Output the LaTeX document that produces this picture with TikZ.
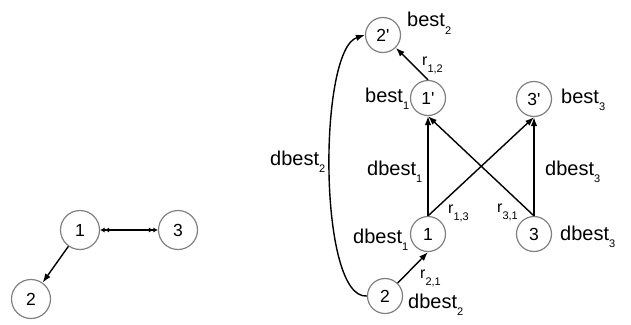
\documentclass[tikz,border=0pt]{standalone}
\usepackage{fontspec}
\setmainfont{Liberation Sans}
\usetikzlibrary{arrows.meta}
\newcommand{\lsb}[1]{\raisebox{-7pt}{\fontsize{11}{11}\selectfont #1}}
\newcommand{\pr}{\textquotesingle}
\tikzset{
  bignode/.style={circle,draw=black!50,line width=1.2pt,minimum size=39pt,inner sep=0pt,font=\fontsize{17.5}{20}\selectfont},
  smallnode/.style={circle,draw=black!50,line width=1.2pt,minimum size=35pt,inner sep=0pt,font=\fontsize{17.5}{20}\selectfont},
  lbl/.style={anchor=base west,inner sep=0pt,font=\fontsize{20}{22}\selectfont},
  rlbl/.style={anchor=base west,inner sep=0pt,font=\fontsize{16}{18}\selectfont},
  edge/.style={line width=1.4pt,-{Latex[length=9pt,width=6.5pt]}},
  dedge/.style={line width=1.4pt,{Latex[length=4.5pt,width=5pt]Latex[length=4.5pt,width=5pt]}-{Latex[length=4.5pt,width=5pt]Latex[length=4.5pt,width=5pt]}}
}
\begin{document}
\begin{tikzpicture}[x=1pt,y=-1pt]
\useasboundingbox (0,0) rectangle (631,324);
% left graph
\node[bignode] (L1) at (80,230) {1};
\node[bignode] (L3) at (178,230) {3};
\node[bignode] (L2) at (31,299) {2};
\draw[dedge] (L1) -- (L3);
\draw[edge] (L1) -- (L2);
% right graph
\node[smallnode] (a2p) at (383,35) {2\pr};
\node[smallnode] (a1p) at (428,98) {1\pr};
\node[smallnode] (a3p) at (534,99) {3\pr};
\node[smallnode] (a1) at (428,234) {1};
\node[smallnode] (a3) at (534,234) {3};
\node[smallnode] (a2) at (385,296) {2};
\draw[edge] (a1p.north) -- (a2p);
\draw[edge] (a1.north) -- (a1p.south);
\draw[edge] (a1.north) -- (a3p.south);
\draw[edge] (a3.north) -- (a3p.south);
\draw[edge] (a3.north) -- (a1p.south);
\draw[edge] (a2) -- (a1.south);
\draw[edge] (a2.west) .. controls (318,300) and (318,50) .. (a2p.west);
% labels
\node[lbl] (t1) at (407,27) {best\lsb{2}};
\node[rlbl] (t2) at (422,65) {r\lsb{1,2}};
\node[lbl] (t3) at (365,102) {best\lsb{1}};
\node[lbl] (t4) at (561,103) {best\lsb{3}};
\node[lbl] (t5) at (367,175) {dbest\lsb{1}};
\node[lbl] (t6) at (545,175) {dbest\lsb{3}};
\node[rlbl] (t7) at (448,213) {r\lsb{1,3}};
\node[rlbl] (t8) at (497,212) {r\lsb{3,1}};
\node[lbl] (t9) at (353,243) {dbest\lsb{1}};
\node[lbl] (t10) at (560,240) {dbest\lsb{3}};
\node[rlbl] (t11) at (420,278) {r\lsb{2,1}};
\node[lbl] (t12) at (408,308) {dbest\lsb{2}};
\node[lbl] (t13) at (270,165) {dbest\lsb{2}};
\end{tikzpicture}
\end{document}
